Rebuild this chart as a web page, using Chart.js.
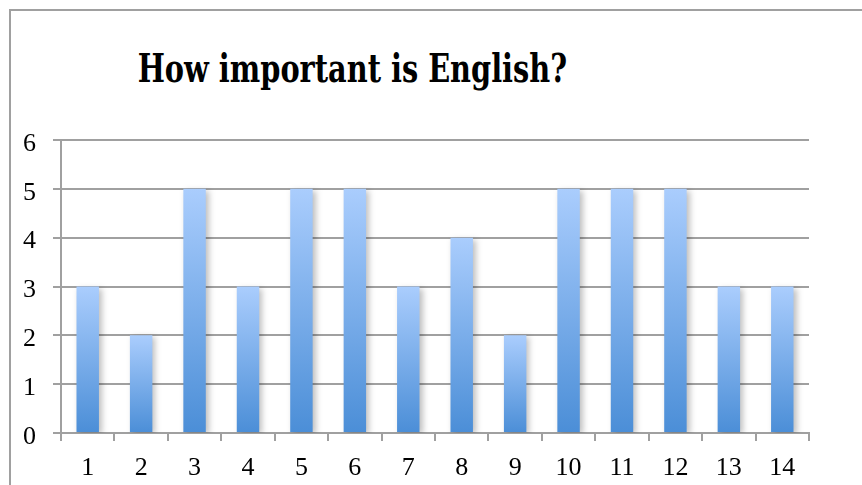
<!DOCTYPE html>
<html>
<head>
<meta charset="utf-8">
<script src="https://cdn.jsdelivr.net/npm/chart.js@4/dist/chart.umd.min.js"></script>
<style>
  html, body { margin: 0; padding: 0; background: #fff; overflow: hidden; }
  #wrap { position: relative; width: 862px; height: 485px; }
  #frame {
    position: absolute; left: 9px; top: 9px;
    width: 1000px; height: 1000px;
    border: 2px solid #a0a0a0;
  }
  #title {
    position: absolute; left: 0; top: 44px; width: 704px;
    text-align: center;
    color: #000;
    line-height: 56px;
  }
  #title span {
    display: inline-block;
    font: bold 40px "DejaVu Serif Condensed", "DejaVu Serif", serif;
    transform: scaleX(0.8);
    transform-origin: center;
    white-space: nowrap;
  }
  canvas { position: absolute; left: 0; top: 0; }
</style>
</head>
<body>
<div id="wrap">
  <div id="frame"></div>
  <div id="title"><span>How important is English?</span></div>
  <canvas id="chart" width="862" height="485"></canvas>
</div>
<script>
(() => {

const categories = ["1", "2", "3", "4", "5", "6", "7", "8", "9", "10", "11", "12", "13", "14"];
const answers = [3, 2, 5, 3, 5, 5, 3, 4, 2, 5, 5, 5, 3, 3];
const yTicks = [0, 1, 2, 3, 4, 5, 6];

const gridGray = "#a0a0a0";
const tickFont = { family: "Liberation Serif", size: 26 };

/* ---------- BAR FILL ---------- */

// each bar fades from pale blue at its top to a deeper blue at its base
function barGradient(ctx) {
  const chart = ctx.chart;
  const y = chart.scales.y;
  if (!y || ctx.raw == null) return "#7aaee8";
  const top = y.getPixelForValue(ctx.raw);
  const base = y.getPixelForValue(0);
  if (!isFinite(top) || !isFinite(base) || top === base) return "#7aaee8";
  const g = chart.ctx.createLinearGradient(0, top, 0, base);
  g.addColorStop(0, "#aacdfd");
  g.addColorStop(1, "#4b8ed7");
  return g;
}

/* ---------- SHADOW ---------- */

const barShadow = {
  id: "barShadow",
  beforeDatasetsDraw(chart) {
    const c = chart.ctx;
    c.save();
    c.shadowColor = "rgba(0, 0, 0, 0.25)";
    c.shadowBlur = 6;
    c.shadowOffsetX = 3;
    c.shadowOffsetY = 2;
  },
  afterDatasetsDraw(chart) {
    chart.ctx.restore();
  }
};

/* ---------- CHART ---------- */

new Chart(document.getElementById("chart"), {
  type: "bar",
  data: {
    labels: categories,
    datasets: [{
      data: answers,
      backgroundColor: barGradient,
      borderWidth: 0,
      barPercentage: 0.42,
      categoryPercentage: 1
    }]
  },
  plugins: [barShadow],
  options: {
    responsive: false,
    animation: false,
    layout: { padding: { left: 0, top: 140, right: 53, bottom: 0 } },
    plugins: {
      legend: { display: false },
      title: { display: false },
      tooltip: { enabled: false }
    },
    scales: {
      x: {
        offset: true,
        afterFit(scale) { scale.height = 52; },
        grid: {
          offset: true,
          drawOnChartArea: false,
          color: gridGray,
          lineWidth: 2,
          tickLength: 8
        },
        border: { color: gridGray, width: 2 },
        ticks: { color: "#000", font: tickFont, padding: 12, maxRotation: 0 }
      },
      y: {
        min: 0,
        max: 6,
        afterFit(scale) { scale.width = 61; },
        afterBuildTicks(scale) { scale.ticks = yTicks.map(v => ({ value: v })); },
        grid: { color: gridGray, lineWidth: 2, tickLength: 8 },
        border: { color: gridGray, width: 2 },
        ticks: { color: "#000", font: tickFont, padding: 17, labelOffset: 4 }
      }
    }
  }
});
})();
</script>
</body>
</html>
